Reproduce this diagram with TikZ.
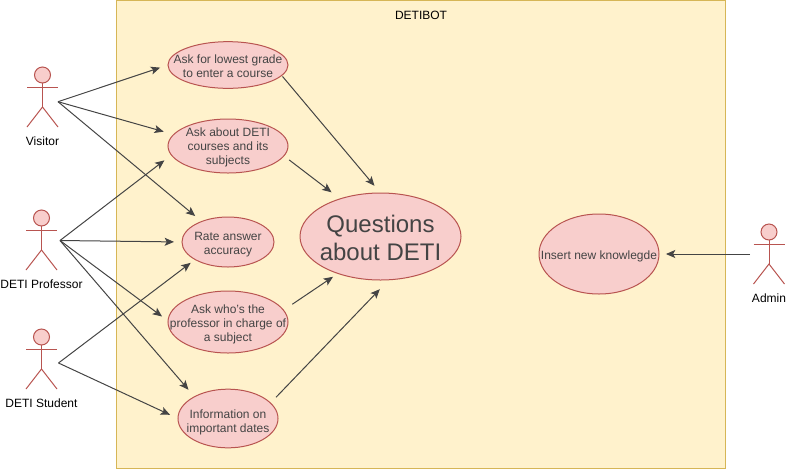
\documentclass[tikz,border=0pt]{standalone}
\usepackage{fontspec}
\setmainfont{Liberation Sans}
\usetikzlibrary{arrows.meta,shapes.geometric}
\definecolor{casefill}{HTML}{F8CECC}
\definecolor{casedraw}{HTML}{B85450}
\definecolor{boxfill}{HTML}{FFF2CC}
\definecolor{boxdraw}{HTML}{D6B656}
\definecolor{ink}{HTML}{444444}
\tikzset{
 usecase/.style={shape=ellipse, draw=casedraw, fill=casefill, line width=.75pt, inner sep=0pt, outer sep=0pt},
 casetext/.style={align=center, text=ink, font=\fontsize{9}{10.5}\selectfont},
 bigtext/.style={align=center, text=ink, font=\fontsize{18}{21}\selectfont},
 actortext/.style={text=black, font=\fontsize{9}{10.5}\selectfont},
 limb/.style={draw=casedraw, line width=.75pt},
 flow/.style={draw=ink, line width=.75pt, -{Stealth[length=7pt,width=6pt,inset=1.6pt]}}
}
\begin{document}
\begin{tikzpicture}[x=.75pt, y=-.75pt]
\useasboundingbox (0, 0) rectangle (786, 469);
\node [shape=rectangle, draw=boxdraw, fill=boxfill, line width=.75pt, inner sep=0pt, outer sep=0pt,
       minimum width=456.75pt, minimum height=351pt] (bot) at (420.5, 234) {};
\node [actortext] (title) at (421, 15.5) {DETIBOT};

% use cases
\node at (228, 65)    [usecase, minimum width=90pt, minimum height=35pt] (grade) {};
\node at (228, 146)   [usecase, minimum width=90pt, minimum height=40.5pt] (courses) {};
\node at (228, 242)   [usecase, minimum width=69pt, minimum height=37.5pt] (rate) {};
\node at (228, 322)   [usecase, minimum width=90pt, minimum height=46.5pt] (charge) {};
\node at (228, 418.5) [usecase, minimum width=75pt, minimum height=44pt] (dates) {};
\node at (380.5, 236.5) [usecase, minimum width=120.75pt, minimum height=65.25pt] (questions) {};
\node at (599, 254)   [usecase, minimum width=90pt, minimum height=60pt] (insert) {};

\node at (228, 66)    [casetext] (gradetext) {Ask for lowest grade\\to enter a course};
\node at (228, 147)   [casetext] (coursestext) {Ask about DETI\\courses and its\\subjects};
\node at (228, 244.5) [casetext] (ratetext) {Rate answer\\accuracy};
\node at (228, 324)   [casetext] (chargetext) {Ask who's the\\professor in charge of\\a subject};
\node at (228, 422)   [casetext] (datestext) {Information on\\important dates};
\node at (380.5, 238) [bigtext] (questionstext) {Questions\\about DETI};
\node at (599, 256)   [casetext] (inserttext) {Insert new knowlegde};

% actors
\foreach \who/\x/\y/\name in {visitor/42.5/75/Visitor, professor/41.5/218/DETI Professor,
                              student/41.5/337/DETI Student, admin/769/232/Admin}
 {
 \node at (\x, \y) [shape=circle, draw=casedraw, fill=casefill, line width=.75pt,
                    inner sep=0pt, outer sep=0pt, minimum size=12pt] (\who head) {};
 \draw [limb] (\who head.south) -- (\x, \y+32) ;
 \draw [limb] (\x-15.5, \y+12) -- (\x+15.5, \y+12) ;
 \draw [limb] (\x-15.5, \y+52) -- (\x, \y+32) -- (\x+15.5, \y+52) ;
 \node at (\x, \y+66.5) [actortext] (\who label) {\name};
 }
\coordinate (visitorout) at (58, 101.7);
\coordinate (professorout) at (60, 240.5);
\coordinate (studentout) at (58.5, 363);
\coordinate (adminout) at (750, 254);

% connectors
\foreach \from/\to/\gap in {visitorout/grade.180/6.2, visitorout/courses.168.7/7.8, visitorout/rate.142.3/6.4,
                            professorout/courses.189.8/6.6, professorout/rate.180/6, professorout/charge.179/5.6,
                            professorout/dates.147.7/6.9, studentout/rate.208.4/4.2, studentout/dates.180/6.6,
                            adminout/insert.0/5.2}
 { \draw [flow, shorten >=\gap pt] (\from) -- (\to) ; }
\foreach \from/\to/\back/\gap in {grade.349/questions.north/1/7, courses.350/questions.137.8/5/8.1,
                                  charge.12.4/questions.221/8/4.5, dates.20/questions.281.1/6/9.8}
 { \draw [flow, shorten <=\back pt, shorten >=\gap pt] (\from) -- (\to) ; }
\end{tikzpicture}
\end{document}
